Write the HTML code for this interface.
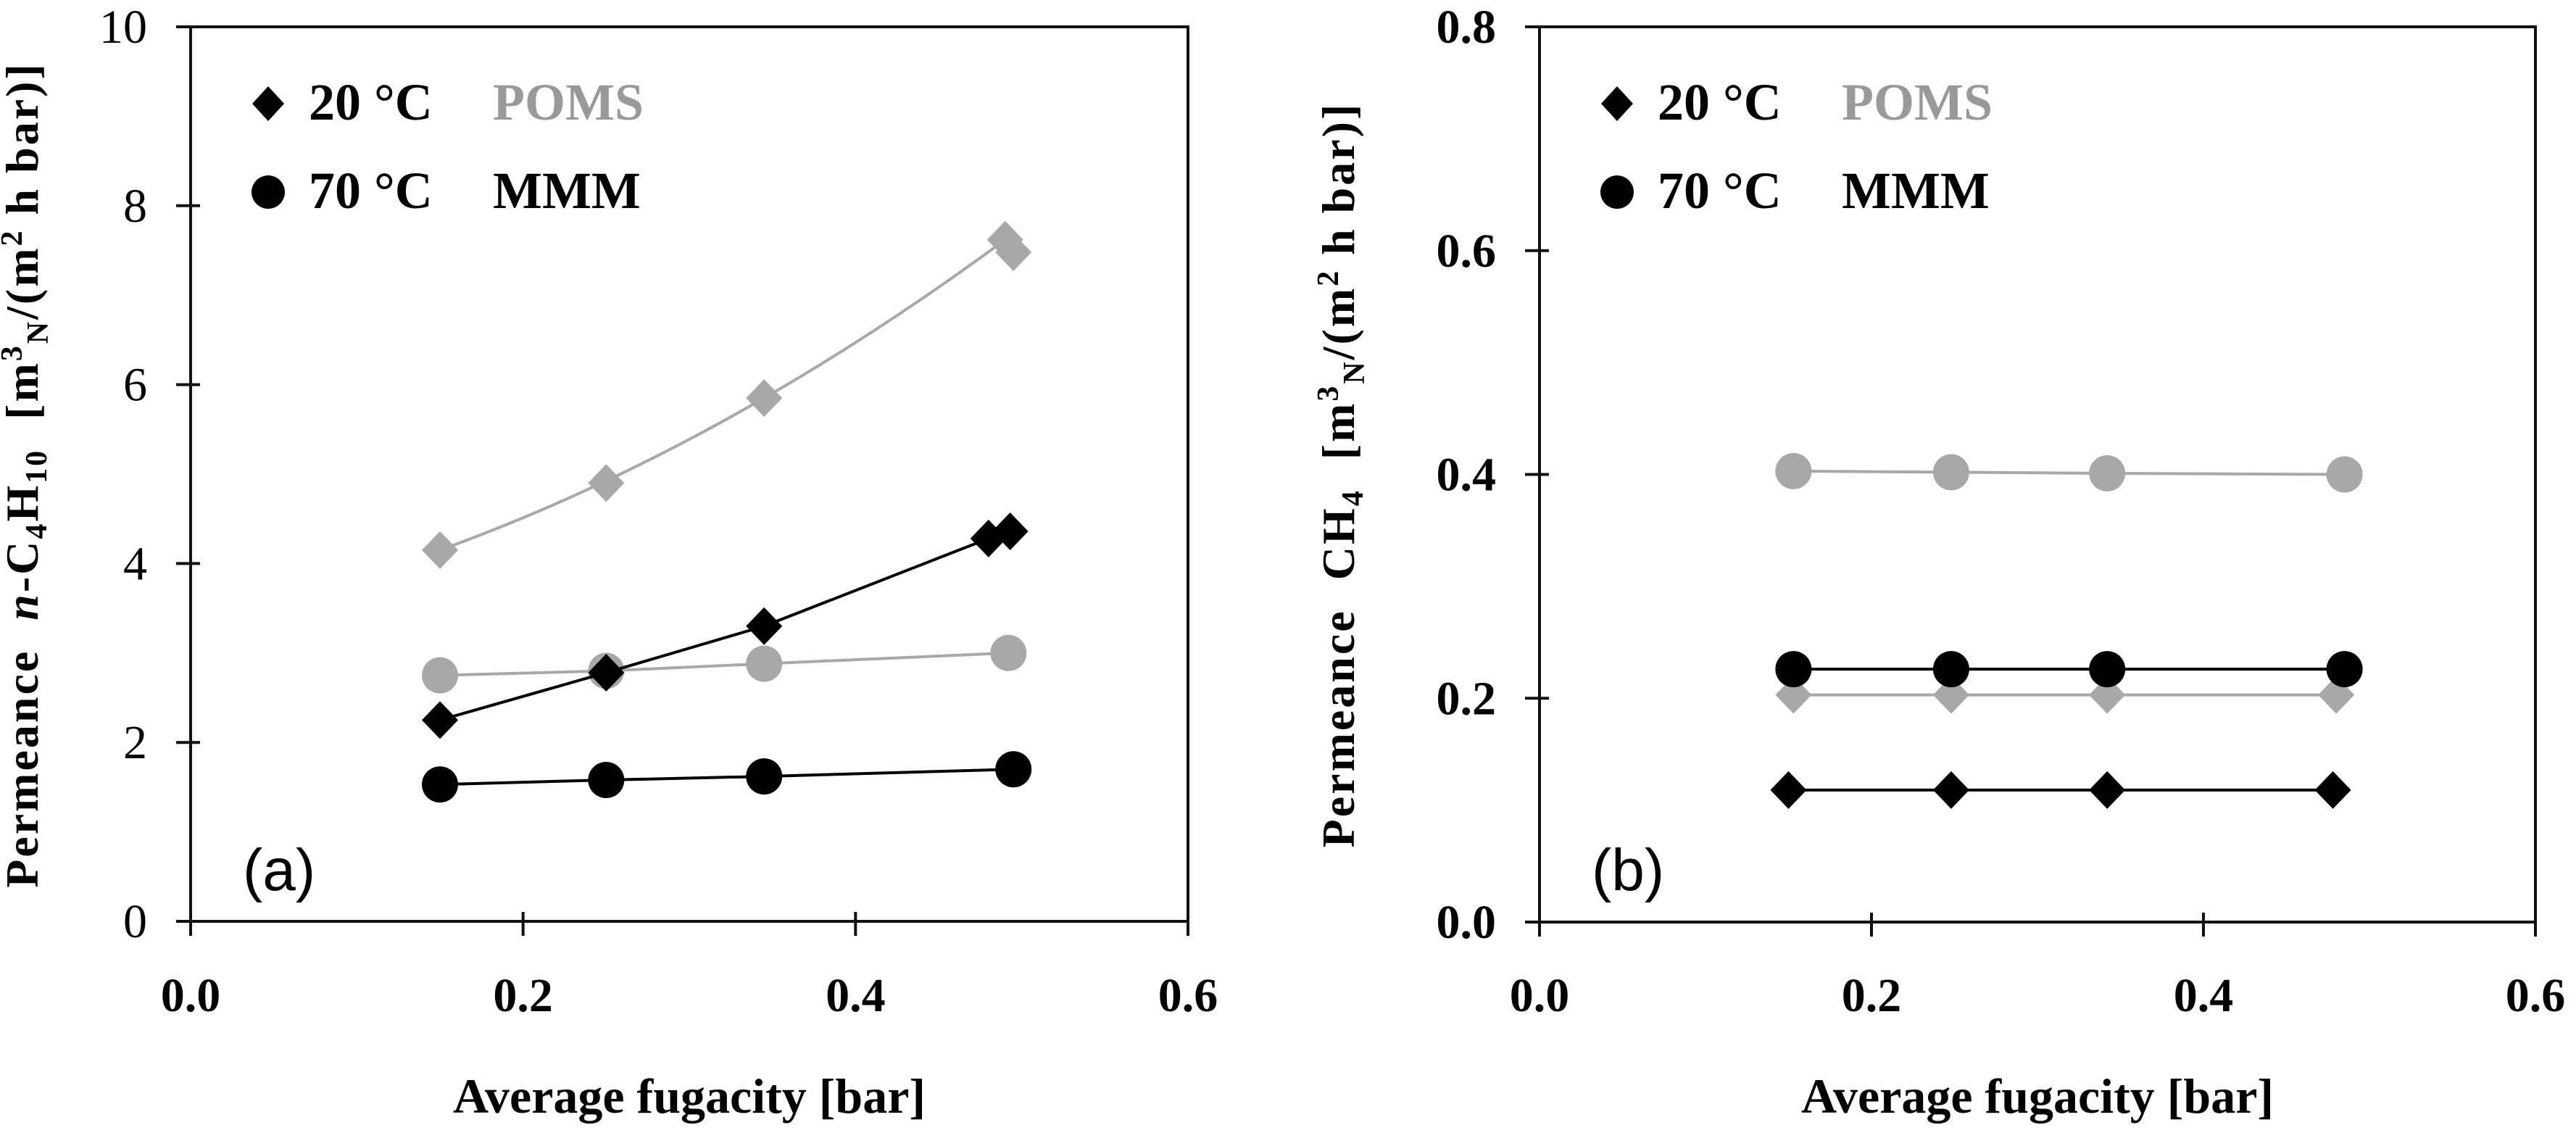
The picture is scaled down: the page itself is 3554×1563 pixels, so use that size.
<!DOCTYPE html>
<html><head><meta charset="utf-8"><style>
body{margin:0;background:#fff;width:3554px;height:1563px;overflow:hidden}
svg{display:block;font-family:"Liberation Serif",serif}
</style></head><body>
<svg id="c" width="3554" height="1563"></svg>
<script>
// Panel (a) n-C4H10
const aPomsX20=[0.15,0.25,0.345,0.49,0.495];
const aPomsY20=[4.15,4.9,5.85,7.62,7.48];
const aPomsX70=[0.15,0.25,0.345,0.492];
const aPomsY70=[2.75,2.8,2.88,3.0];
const aMmmX20=[0.15,0.25,0.345,0.48,0.493];
const aMmmY20=[2.25,2.78,3.3,4.28,4.36];
const aMmmX70=[0.15,0.25,0.345,0.495];
const aMmmY70=[1.53,1.58,1.62,1.7];
// Panel (b) CH4
const bPomsX70=[0.153,0.248,0.342,0.485];
const bPomsY70=[0.403,0.402,0.401,0.400];
const bMmmX70=[0.153,0.248,0.342,0.485];
const bMmmY70=[0.226,0.226,0.226,0.226];
const bPomsX20=[0.153,0.248,0.342,0.48];
const bPomsY20=[0.203,0.203,0.203,0.203];
const bMmmX20=[0.15,0.248,0.342,0.478];
const bMmmY20=[0.118,0.118,0.118,0.118];
const xTicks=["0.0","0.2","0.4","0.6"];
const aYTicks=["0","2","4","6","8","10"];
const bYTicks=["0.0","0.2","0.4","0.6","0.8"];

const NS="http://www.w3.org/2000/svg";
const svg=document.getElementById('c');
function mk(tag,attrs,parent){const e=document.createElementNS(NS,tag);for(const k in attrs)e.setAttribute(k,attrs[k]);(parent||svg).appendChild(e);return e;}
const GREY="#a8a8a8";

function panel(id,L,R,T,B,ymax,yTicks,yBold,series,tag){
  const g=mk('g',{});
  
  
  const sx=v=>L+(R-L)*v/0.6, sy=v=>B-(B-T)*v/ymax;
  const frame=mk('rect',{x:L,y:T,width:R-L,height:B-T,fill:'none',stroke:'#111','stroke-width':4},g);
  
  
  xTicks.forEach(t=>{const x=sx(parseFloat(t));
    mk('line',{x1:x,x2:x,y1:B-13,y2:B+20,stroke:'#111','stroke-width':4},g);
    const tx=mk('text',{x:x,y:1395,'font-size':66,'font-weight':'bold','text-anchor':'middle',fill:'#000'},g);
    tx.textContent=t;
    
    
  });
  yTicks.forEach(t=>{const y=sy(parseFloat(t));
    mk('line',{x1:L-20,x2:L+13,y1:y,y2:y,stroke:'#111','stroke-width':4},g);
    const tx=mk('text',{x:L-60,y:y+22,'font-size':66,'font-weight':yBold?'bold':'normal','text-anchor':'end',fill:'#000'},g);
    tx.textContent=t;
    
    
  });
  series.forEach(s=>{
    let d='';
    if(s.curve){const n=40;for(let i=0;i<=n;i++){const x=s.xs[0]+(s.xs[s.xs.length-1]-s.xs[0])*i/n;
      const y=s.curve(x);d+=(i?'L':'M')+sx(x)+' '+sy(y);}}
    else s.xs.forEach((x,i)=>{d+=(i?'L':'M')+sx(x)+' '+sy(s.ys[i]);});
    const p=mk('path',{d:d,fill:'none',stroke:s.lc,'stroke-width':4},g);
    
    
    s.xs.forEach((x,i)=>{const cx=sx(x),cy=sy(s.ys[i]);let m;
      if(s.shape==='c')m=mk('circle',{cx:cx,cy:cy,r:25,fill:s.mc},g);
      else m=mk('path',{d:`M${cx} ${cy-26}L${cx+25} ${cy}L${cx} ${cy+26}L${cx-25} ${cy}Z`,fill:s.mc},g);
      
      
    });
  });
  const lx=L+107;
  const d1=mk('path',{d:`M${lx} ${143-24}L${lx+22} 143L${lx} ${143+24}L${lx-22} 143Z`,fill:'#000'},g);
  
  
  const c1=mk('circle',{cx:lx,cy:265,r:23,fill:'#000'},g);
  
  
  [['20 °C',165,'#000',lx+56,'legend-20c'],['70 °C',287,'#000',lx+56,'legend-70c'],['POMS',165,'#999',lx+310,'legend-poms'],['MMM',287,'#000',lx+310,'legend-mmm']].forEach(a=>{
    const t=mk('text',{x:a[3],y:a[1],'font-size':72,'font-weight':'bold',fill:a[2]},g);t.textContent=a[0];
    
    
  });
  const pl=mk('text',{x:L+72,y:1228,'font-size':82,'font-family':'Liberation Sans, sans-serif',fill:'#000'},g);
  pl.textContent=tag;
  
  
  const xt=mk('text',{x:(L+R)/2,y:1535,'font-size':68,'font-weight':'bold','text-anchor':'middle',fill:'#000'},g);
  xt.textContent='Average fugacity [bar]';
  
  
  return g;
}
function quadThrough(x0,y0,x1,y1,x2,y2){return x=>y0*(x-x1)*(x-x2)/((x0-x1)*(x0-x2))+y1*(x-x0)*(x-x2)/((x1-x0)*(x1-x2))+y2*(x-x0)*(x-x1)/((x2-x0)*(x2-x1));}
const qa=quadThrough(aPomsX20[0],aPomsY20[0],aPomsX20[2],aPomsY20[2],aPomsX20[3],aPomsY20[3]);

panel('a',263,1639,37,1271,10,aYTicks,false,[
 {name:'poms-20c',xs:aPomsX20,ys:aPomsY20,shape:'d',mc:GREY,lc:GREY,curve:qa},
 {name:'poms-70c',xs:aPomsX70,ys:aPomsY70,shape:'c',mc:GREY,lc:GREY},
 {name:'mmm-20c',xs:aMmmX20,ys:aMmmY20,shape:'d',mc:'#000',lc:'#000'},
 {name:'mmm-70c',xs:aMmmX70,ys:aMmmY70,shape:'c',mc:'#000',lc:'#000'}],'(a)');
panel('b',2124,3498,37,1272,0.8,bYTicks,true,[
 {name:'poms-70c',xs:bPomsX70,ys:bPomsY70,shape:'c',mc:GREY,lc:GREY},
 {name:'poms-20c',xs:bPomsX20,ys:bPomsY20,shape:'d',mc:GREY,lc:GREY},
 {name:'mmm-70c',xs:bMmmX70,ys:bMmmY70,shape:'c',mc:'#000',lc:'#000'},
 {name:'mmm-20c',xs:bMmmX20,ys:bMmmY20,shape:'d',mc:'#000',lc:'#000'}],'(b)');

function ytitle(cx,parts,name){
  const t=mk('text',{transform:`translate(${cx},655) rotate(-90)`,'font-size':64,'font-weight':'bold','text-anchor':'middle','letter-spacing':3,fill:'#000'});
  t.setAttribute('xml:space','preserve');
  t.style.whiteSpace='pre';
  
  
  parts.forEach(p=>{const s=mk('tspan',p[1]||{},t);s.textContent=p[0];});
}
ytitle(52,[['Permeance'],['n',{'font-style':'italic',dx:40}],['-C'],['4',{'font-size':42,dy:12}],['H',{dy:-12}],['10',{'font-size':42,dy:12}],['[m',{dy:-12,dx:40}],['3',{'font-size':42,dy:-22}],['N',{'font-size':42,dy:36}],['/(m',{dy:-14}],['2',{'font-size':42,dy:-22}],[' h bar)]',{dy:22}]],'y-axis-title-a');
ytitle(1868,[['Permeance'],['CH',{dx:40}],['4',{'font-size':42,dy:12}],['[m',{dy:-12,dx:40}],['3',{'font-size':42,dy:-22}],['N',{'font-size':42,dy:36}],['/(m',{dy:-14}],['2',{'font-size':42,dy:-22}],[' h bar)]',{dy:22}]],'y-axis-title-b');
</script>
</body></html>
